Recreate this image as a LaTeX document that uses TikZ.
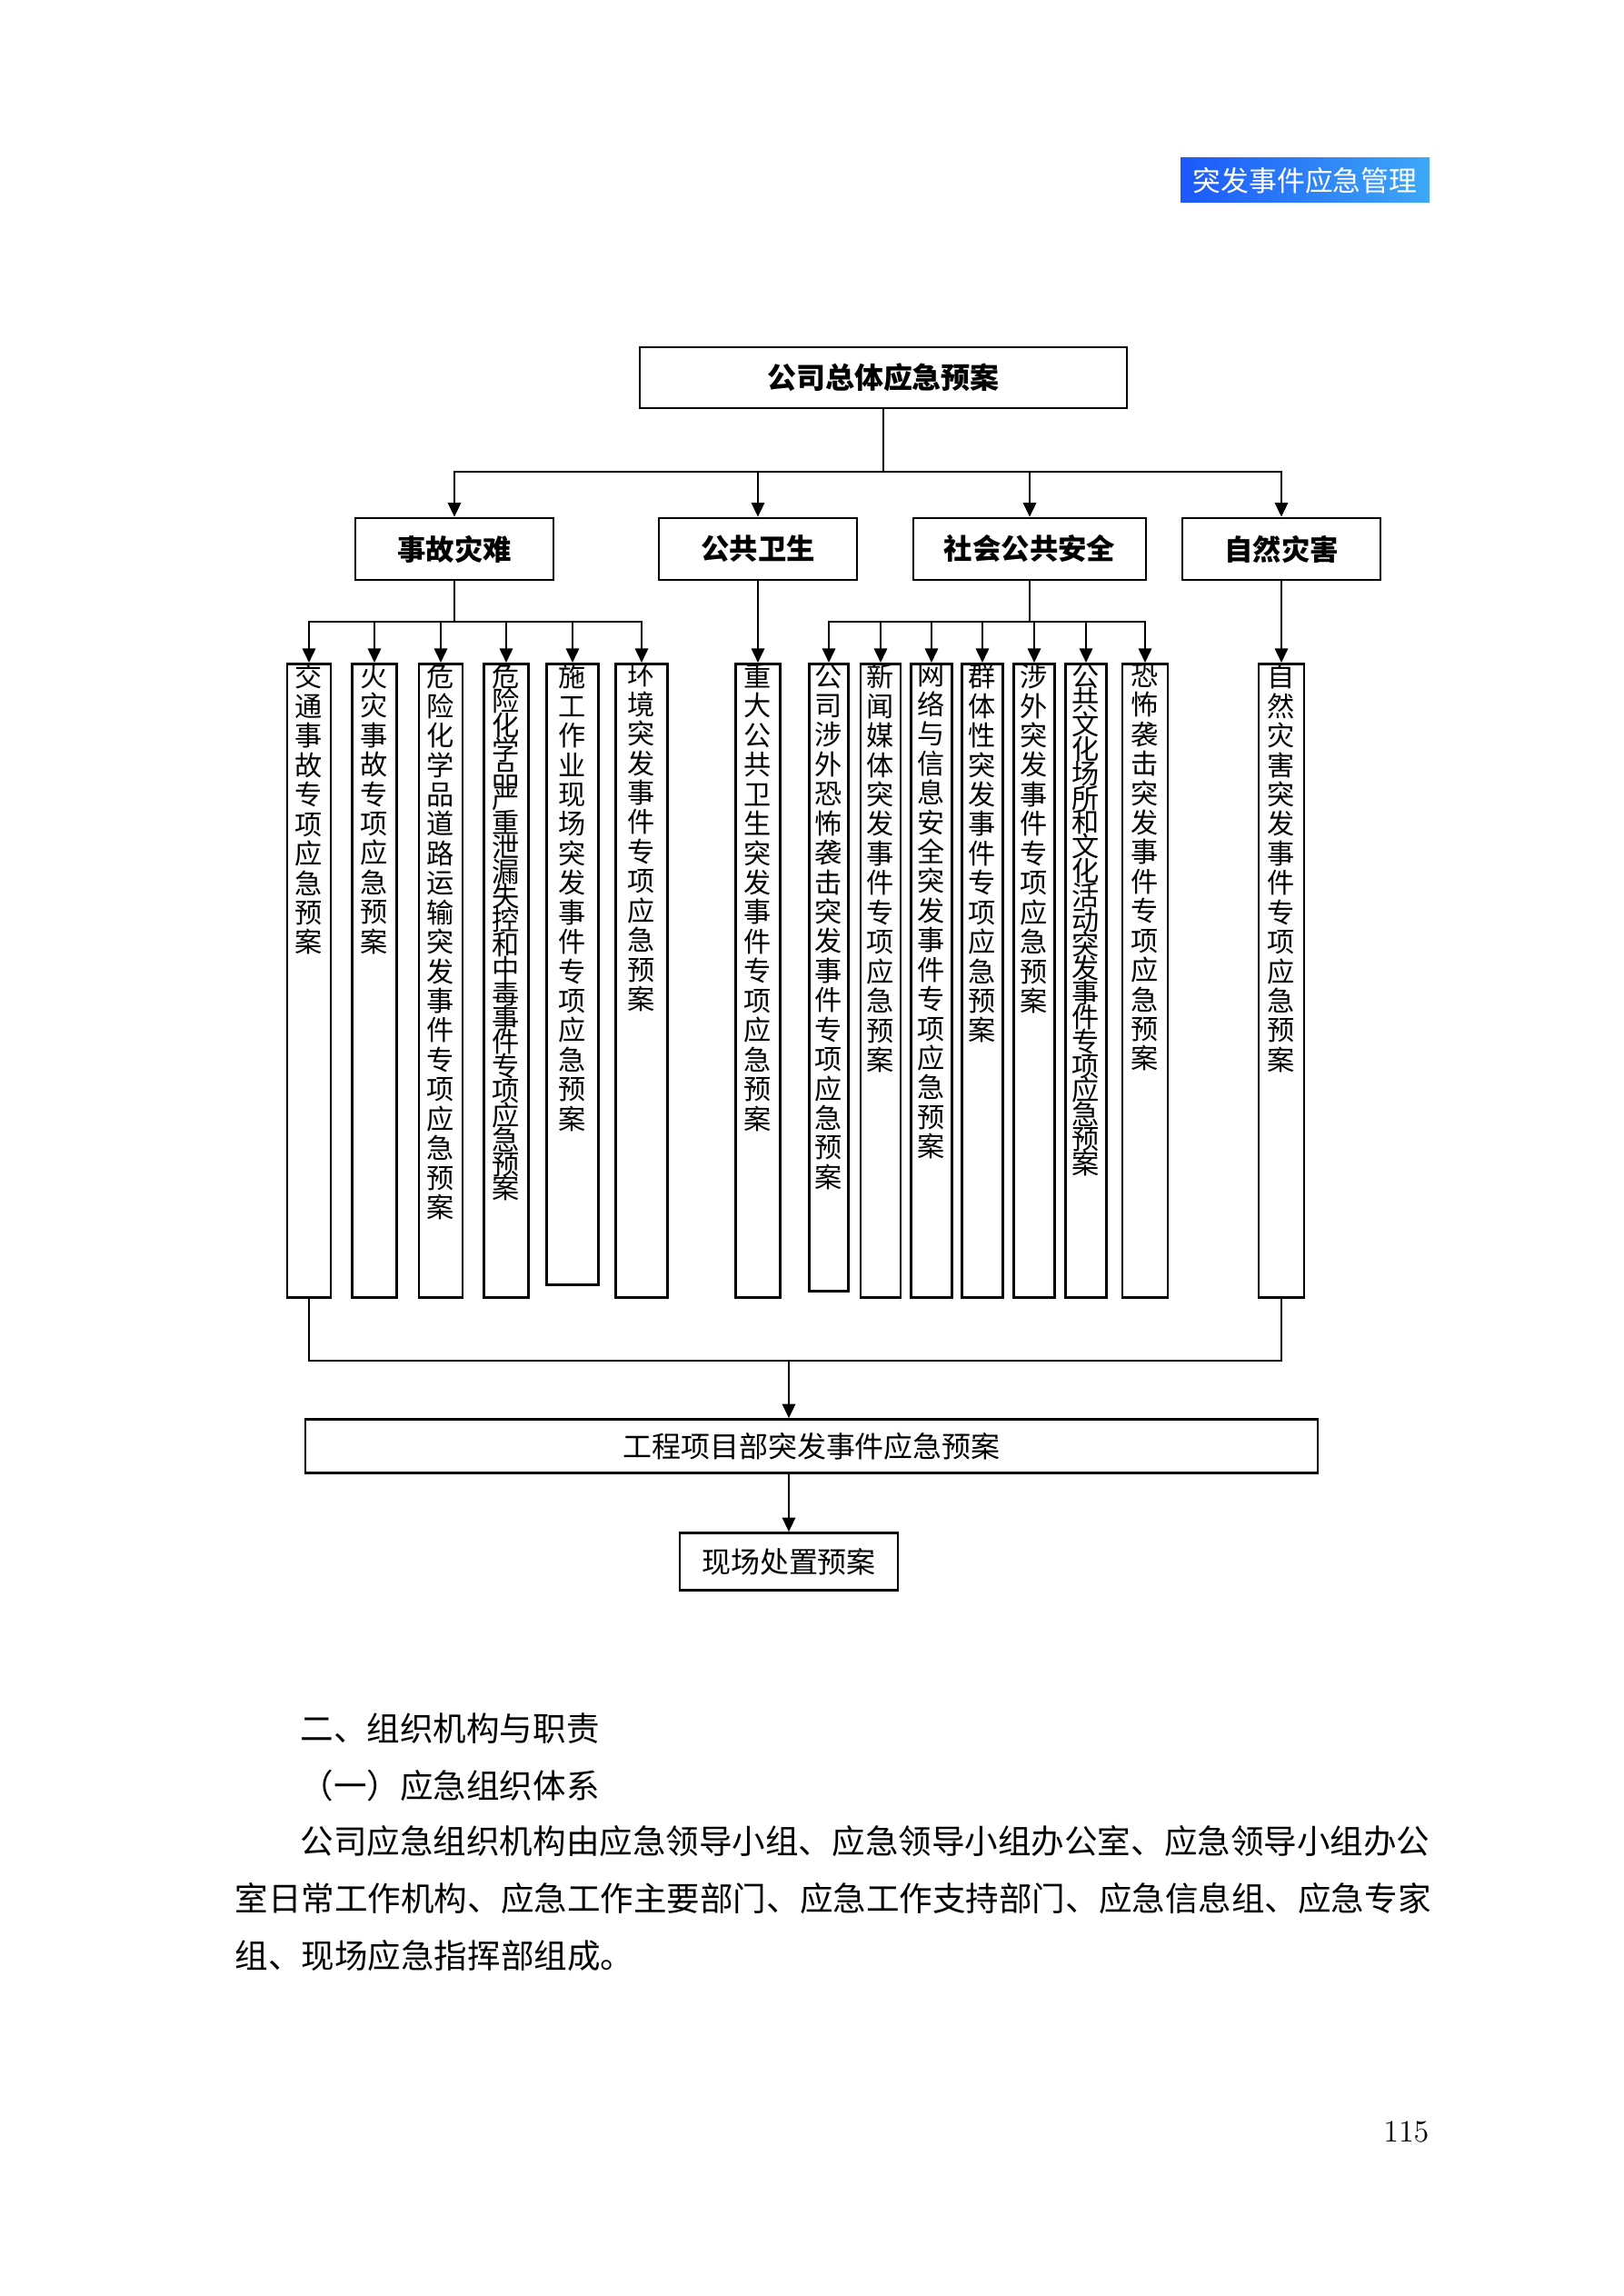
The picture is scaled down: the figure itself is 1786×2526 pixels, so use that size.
\documentclass[tikz,border=0pt]{standalone}
\usepackage{fontspec}
\newfontfamily\cjk{Noto Sans CJK SC}
\usetikzlibrary{arrows.meta,positioning}

\definecolor{hdleft}{RGB}{28,88,250}
\definecolor{hdright}{RGB}{62,168,246}

% one pixel of the page
\newlength\pxu
\setlength\pxu{0.11758mm}

% stack the characters of a text one under the other
\ExplSyntaxOn
\seq_new:N \l_colchars_seq
\NewDocumentCommand\colstack{m}{
  \seq_clear:N \l_colchars_seq
  \tl_map_inline:nn {#1} {\seq_put_right:Nn \l_colchars_seq {##1}}
  \seq_use:Nn \l_colchars_seq {\\}
}
\ExplSyntaxOff

% width, height, line pitch, text
\newcommand\vplan[4]{\parbox[c][#2\pxu][t]{#1\pxu}{\centering\lineskiplimit=-\maxdimen\fontsize{10.1pt}{#3pt}\selectfont\colstack{#4}}}

\begin{document}
\begin{tikzpicture}[
    x=0.11758mm,
    y=-0.11758mm,
    every node/.style={font=\cjk},
    badge/.style={
        left color=hdleft,
        right color=hdright,
        text=white,
        inner sep=0pt,
        font=\cjk\fontsize{10.3pt}{12pt}\selectfont
    },
    topbox/.style={
        draw,
        line width=0.9pt,
        inner sep=0pt,
        font=\cjk\bfseries\fontsize{10.7pt}{12pt}\selectfont
    },
    catbox/.style={
        draw,
        line width=0.9pt,
        inner sep=0pt,
        minimum width=218\pxu,
        minimum height=68\pxu,
        font=\cjk\bfseries\fontsize{10.5pt}{12pt}\selectfont
    },
    planbox/.style={draw, line width=0.9pt, inner sep=0pt, anchor=north},
    sitebox/.style={
        draw,
        line width=0.9pt,
        inner sep=0pt,
        font=\cjk\fontsize{10.7pt}{12pt}\selectfont
    },
    bodytext/.style={anchor=west, inner sep=0pt, font=\cjk\fontsize{12.23pt}{14pt}\selectfont},
    flow/.style={-{Triangle[length=5.2pt,width=4.8pt]}, line width=0.7pt},
    link/.style={line width=0.7pt}
]

\fill[white] (0,0) rectangle (1786,2526);
\useasboundingbox (0,0) rectangle (1786,2526);

\node[badge, minimum width=274\pxu, minimum height=49\pxu] (hd) at (1436,198.5) {突发事件应急管理};

% levels 1 and 2
\node[topbox, minimum width=536\pxu, minimum height=67\pxu] (ztya) at (972,415.5) {公司总体应急预案};
\node[catbox] (sgzn) at (500,604) {事故灾难};
\node[catbox] (ggws) at (834,604) {公共卫生};
\node[catbox, minimum width=256\pxu] (shaq) at (1133,604) {社会公共安全};
\node[catbox] (zrzh) at (1410,604) {自然灾害};

% special plans
\node[planbox] (jtsg) at (340,729) {\vplan{48}{697}{10.85}{交通事故专项应急预案}};
\node[planbox] (hzsg) at (412,729) {\vplan{49}{697}{10.85}{火灾事故专项应急预案}};
\node[planbox] (whys) at (485,729) {\vplan{48}{697}{10.85}{危险化学品道路运输突发事件专项应急预案}};
\node[planbox] (whxl) at (557,729) {\vplan{49}{697}{8.97}{危险化学品严重泄漏失控和中毒事件专项应急预案}};
\node[planbox] (sgxc) at (630,729) {\vplan{57}{683}{10.85}{施工作业现场突发事件专项应急预案}};
\node[planbox] (hjtf) at (706,729) {\vplan{57}{697}{10.85}{环境突发事件专项应急预案}};
\node[planbox] (zdws) at (834,729) {\vplan{49}{697}{10.85}{重大公共卫生突发事件专项应急预案}};
\node[planbox] (gssw) at (912,729) {\vplan{43}{690}{10.85}{公司涉外恐怖袭击突发事件专项应急预案}};
\node[planbox] (xwmt) at (969,729) {\vplan{44}{697}{10.85}{新闻媒体突发事件专项应急预案}};
\node[planbox] (wlxx) at (1025,729) {\vplan{45}{697}{10.85}{网络与信息安全突发事件专项应急预案}};
\node[planbox] (qtxt) at (1081,729) {\vplan{45}{697}{10.85}{群体性突发事件专项应急预案}};
\node[planbox] (swtf) at (1138,729) {\vplan{45}{697}{10.85}{涉外突发事件专项应急预案}};
\node[planbox] (ggwh) at (1195,729) {\vplan{45}{697}{8.97}{公共文化场所和文化活动突发事件专项应急预案}};
\node[planbox] (kbxj) at (1260,729) {\vplan{50}{697}{10.85}{恐怖袭击突发事件专项应急预案}};
\node[planbox] (zrtf) at (1410,729) {\vplan{50}{697}{10.85}{自然灾害突发事件专项应急预案}};

% project level
\node[sitebox, minimum width=1114\pxu, minimum height=59\pxu] (gcxm) at (893,1591) {工程项目部突发事件应急预案};
\node[sitebox, minimum width=240\pxu, minimum height=63\pxu] (xccz) at (868,1718) {现场处置预案};

% connectors
\coordinate (bus) at (ztya.south |- 0,519);
\draw[link] (ztya.south) -- (bus);
\draw[flow] (bus) -| (sgzn.north);
\draw[flow] (bus) -| (ggws.north);
\draw[flow] (bus) -| (shaq.north);
\draw[flow] (bus) -| (zrzh.north);

\coordinate (sgb) at (sgzn.south |- 0,684);
\draw[link] (sgzn.south) -- (sgb);
\draw[flow] (sgb) -| (jtsg.north);
\draw[flow] (sgb) -| (hzsg.north);
\draw[flow] (sgb) -| (whys.north);
\draw[flow] (sgb) -| (whxl.north);
\draw[flow] (sgb) -| (sgxc.north);
\draw[flow] (sgb) -| (hjtf.north);

\draw[flow] (ggws.south) -- (zdws.north);

\coordinate (shb) at (shaq.south |- 0,684);
\draw[link] (shaq.south) -- (shb);
\draw[flow] (shb) -| (gssw.north);
\draw[flow] (shb) -| (xwmt.north);
\draw[flow] (shb) -| (wlxx.north);
\draw[flow] (shb) -| (qtxt.north);
\draw[flow] (shb) -| (swtf.north);
\draw[flow] (shb) -| (ggwh.north);
\draw[flow] (shb) -| (kbxj.north);

\draw[flow] (zrzh.south) -- (zrtf.north);

\coordinate (dl) at (jtsg.south |- 0,1497);
\coordinate (dr) at (zrtf.south |- 0,1497);
\coordinate (dm) at (xccz.north |- 0,1497);
\draw[link] (jtsg.south) -- (dl) -- (dr) -- (zrtf.south);
\draw[flow] (dm) -- (dm |- gcxm.north);
\draw[flow] (gcxm.south -| xccz.north) -- (xccz.north);

% text below the chart
\node[bodytext] (h1) at (330,1902) {二、组织机构与职责};
\node[bodytext] (h2) at (330,1965) {（一）应急组织体系};
\node[bodytext] (p1) at (330,2026) {公司应急组织机构由应急领导小组、应急领导小组办公室、应急领导小组办公};
\node[bodytext] (p2) at (258,2089) {室日常工作机构、应急工作主要部门、应急工作支持部门、应急信息组、应急专家};
\node[bodytext] (p3) at (258,2152) {组、现场应急指挥部组成。};

\node[anchor=east, inner sep=0pt, font=\rmfamily\fontsize{11.4pt}{13pt}\selectfont] (pg) at (1573,2345) {115};

\end{tikzpicture}
\end{document}
